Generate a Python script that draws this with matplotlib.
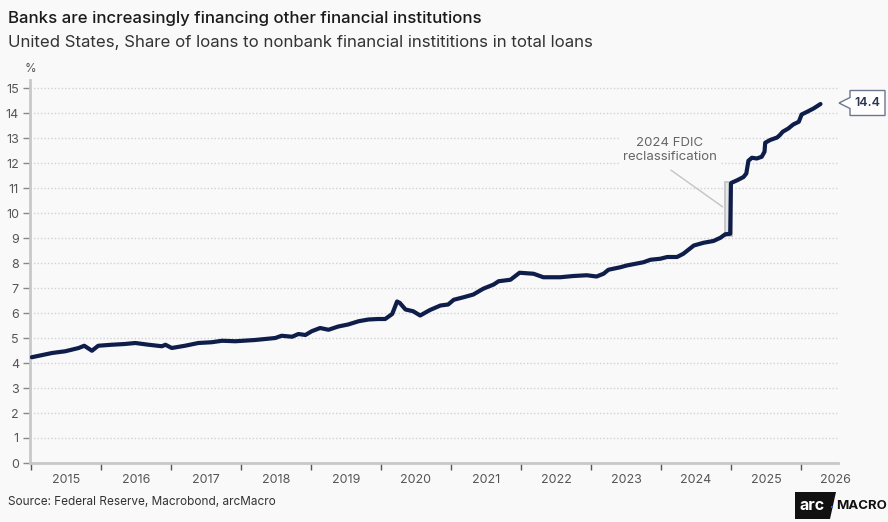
import matplotlib
matplotlib.use("Agg")
import matplotlib.pyplot as plt
import matplotlib.transforms as mtransforms
from matplotlib.patches import Polygon, Rectangle

# ---- data (decimal year, % share) ----
dec_year = [2015.01, 2015.30, 2015.49, 2015.68, 2015.76, 2015.87, 2015.96, 2016.15, 2016.34,
            2016.49, 2016.68, 2016.87, 2016.92, 2017.01, 2017.20, 2017.39, 2017.58, 2017.73,
            2017.92, 2018.20, 2018.49, 2018.58, 2018.73, 2018.82, 2018.92, 2019.01, 2019.13,
            2019.25, 2019.39, 2019.53, 2019.68, 2019.82, 2019.96, 2020.06, 2020.16, 2020.23,
            2020.27, 2020.35, 2020.46, 2020.56, 2020.70, 2020.85, 2020.96, 2021.04, 2021.18,
            2021.32, 2021.46, 2021.61, 2021.68, 2021.85, 2021.98, 2022.18, 2022.32, 2022.56,
            2022.75, 2022.94, 2023.08, 2023.18, 2023.25, 2023.42, 2023.51, 2023.75, 2023.85,
            2023.99, 2024.09, 2024.23, 2024.32, 2024.47, 2024.61, 2024.75, 2024.85, 2024.92,
            2024.99, 2025.00, 2025.01, 2025.09, 2025.18, 2025.22, 2025.25, 2025.30, 2025.37,
            2025.44, 2025.48, 2025.49, 2025.56, 2025.66, 2025.70, 2025.74, 2025.82, 2025.89,
            2025.97, 2026.01, 2026.09, 2026.18, 2026.28]
share = [4.23, 4.40, 4.47, 4.60, 4.69, 4.49, 4.69, 4.73, 4.76,
         4.80, 4.73, 4.67, 4.73, 4.60, 4.69, 4.80, 4.83, 4.89,
         4.87, 4.92, 5.00, 5.09, 5.05, 5.16, 5.12, 5.27, 5.40,
         5.33, 5.46, 5.54, 5.67, 5.74, 5.76, 5.76, 5.96, 6.46,
         6.40, 6.14, 6.07, 5.90, 6.12, 6.30, 6.34, 6.53, 6.63,
         6.74, 6.97, 7.14, 7.27, 7.33, 7.61, 7.57, 7.43, 7.43,
         7.48, 7.51, 7.46, 7.57, 7.73, 7.83, 7.90, 8.03, 8.13,
         8.17, 8.24, 8.24, 8.37, 8.70, 8.81, 8.88, 9.01, 9.15,
         9.17, 11.18, 11.21, 11.31, 11.44, 11.58, 12.09, 12.21, 12.18,
         12.25, 12.45, 12.81, 12.92, 13.02, 13.12, 13.25, 13.38, 13.54,
         13.65, 13.94, 14.05, 14.18, 14.36]
year_ticks = list(range(2015, 2027))
year_labels = [str(y) for y in year_ticks]
y_ticks = list(range(0, 16))
last_label = "14.4"
last_value = 14.4
jump_year = 2025.0
jump_low, jump_high = 9.17, 11.18

BG = "#f9f9f9"
NAVY = "#0f1d4a"
FONT = "Inter"

plt.rcParams["font.family"] = [FONT, "DejaVu Sans"]

fig = plt.figure(figsize=(8.88, 5.22), dpi=100, facecolor=BG)
ax = fig.add_axes([30 / 888, 1 - 463 / 522, 808 / 888, 383 / 522])
ax.set_facecolor(BG)

ax.plot(dec_year, share, color=NAVY, lw=3.0, solid_joinstyle="round",
        solid_capstyle="round", zorder=4)

ax.set_xlim(2014.985, 2026.53)
ax.set_ylim(0, 15.32)

# ticks
ax.set_xticks(year_ticks)
ax.set_xticklabels([])
ax.set_xticks([y + 0.5 for y in year_ticks], minor=True)
ax.set_xticklabels(year_labels, minor=True)
ax.tick_params(axis="x", which="major", direction="out", length=5, width=1, color="#555555")
ax.tick_params(axis="x", which="minor", length=0, pad=8, labelsize=9, labelcolor="#555555")
ax.set_yticks(y_ticks)
ax.tick_params(axis="y", direction="out", length=5, width=1, color="#888888",
               labelsize=9, labelcolor="#555555", pad=3)

for yv in y_ticks[1:]:
    ax.axhline(yv, color="#d2d2d2", lw=1, ls=(0, (1, 1.5)), zorder=1)

for s in ["top", "right"]:
    ax.spines[s].set_visible(False)
for s in ["left", "bottom"]:
    ax.spines[s].set_color("#c8c8c8")
    ax.spines[s].set_linewidth(2)

ax.text(0.0, 1.012, "%", transform=ax.transAxes, ha="center", va="bottom",
        fontsize=8.5, color="#555555")

# reclassification highlight
ax.add_patch(Rectangle((jump_year - 0.08, jump_low - 0.07), 0.1, jump_high - jump_low + 0.14,
                       facecolor="#e6e6e6", edgecolor="#c4c4c4", lw=1.3, zorder=3))
ax.annotate("", xy=(jump_year - 0.085, 10.18), xytext=(2024.11, 11.78),
            arrowprops=dict(arrowstyle="-", color="#c4c4c4", lw=1), zorder=3)
ax.text(2024.13, 12.53, "2024 FDIC\nreclassification", ha="center", va="center",
        fontsize=9.5, color="#666666", linespacing=1.25, zorder=5,
        bbox=dict(facecolor=BG, edgecolor="none", pad=3))

# end label callout
trans = mtransforms.Affine2D().scale(fig.dpi / 100) + \
    mtransforms.ScaledTranslation(1.0, last_value, ax.get_yaxis_transform())
verts = [(1, 0), (12, 5.5), (12, 12.5), (47, 12.5), (47, -12.5), (12, -12.5), (12, -5.5)]
ax.add_patch(Polygon(verts, closed=True, transform=trans, facecolor="white",
                     edgecolor="#6c7690", lw=1, clip_on=False, zorder=6))
ax.text(29.5, 0, last_label, transform=trans, ha="center", va="center",
        fontsize=9, fontweight="semibold", color="#2b3553", clip_on=False, zorder=7)

# titles
fig.text(8 / 888, 1 - 19 / 522, "Banks are increasingly financing other financial institutions",
         ha="left", va="center", fontsize=12.1, fontweight="medium", color="#1a1a1a")
fig.text(8 / 888, 1 - 43 / 522, "United States, Share of loans to nonbank financial instititions in total loans",
         ha="left", va="center", fontsize=12.1, color="#333333")
fig.text(8 / 888, 1 - 502 / 522, "Source: Federal Reserve, Macrobond, arcMacro",
         ha="left", va="center", fontsize=8.5, color="#333333")

# logo
def px(x, y):
    return (x / 888, 1 - y / 522)
logo = Polygon([px(795, 492), px(836, 492), px(830, 519), px(795, 519)], closed=True,
               transform=fig.transFigure, facecolor="#111111", edgecolor="none")
fig.patches.append(logo)
fig.text(*px(812, 505), "arc", ha="center", va="center", fontsize=11.5,
         fontweight="bold", color="white")
fig.patches.append(Rectangle(px(830.5, 508), 2.4 / 888, 2.4 / 522, transform=fig.transFigure,
                             facecolor="#1f5fff", edgecolor="none"))
fig.text(*px(861.5, 506), "MACRO", ha="center", va="center", fontsize=9.5,
         fontweight="bold", color="#111111")

fig.savefig("out.png", dpi=100, facecolor=BG)
